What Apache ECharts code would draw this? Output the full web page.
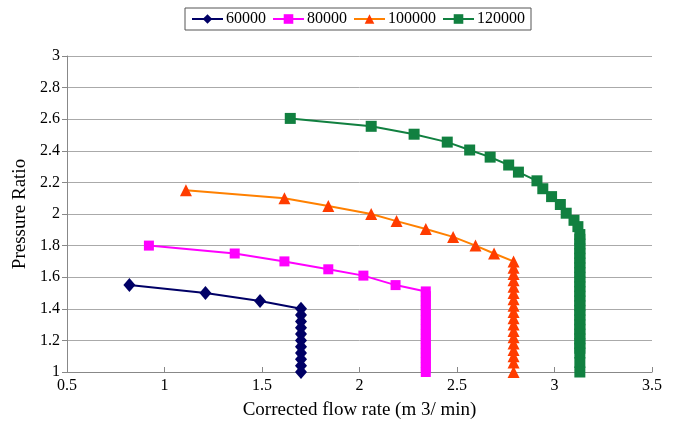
<!DOCTYPE html>
<html>
<head>
<meta charset="utf-8">
<script src="https://cdn.jsdelivr.net/npm/echarts@6/dist/echarts.min.js"></script>
<style>html,body{margin:0;padding:0;background:#fff;}#c{width:674px;height:425px;}</style>
</head>
<body>
<div id="c"></div>
<script>
const seriesNames = ['60000', '80000', '100000', '120000'];

const flow60000  = [0.82, 1.21, 1.49, 1.70, 1.70, 1.70, 1.70, 1.70, 1.70, 1.70, 1.70, 1.70, 1.70, 1.70];
const ratio60000 = [1.55, 1.50, 1.45, 1.40, 1.36, 1.32, 1.28, 1.24, 1.20, 1.16, 1.12, 1.08, 1.04, 1.00];

const flow80000  = [0.92, 1.36, 1.615, 1.84, 2.02, 2.185, 2.34, 2.34, 2.34, 2.34, 2.34, 2.34, 2.34, 2.34, 2.34, 2.34, 2.34, 2.34, 2.34, 2.34, 2.34, 2.34, 2.34, 2.34];
const ratio80000 = [1.80, 1.75, 1.70, 1.65, 1.61, 1.55, 1.51, 1.48, 1.45, 1.42, 1.39, 1.36, 1.33, 1.30, 1.27, 1.24, 1.21, 1.18, 1.15, 1.12, 1.09, 1.06, 1.03, 1.00];

const flow100000  = [1.11, 1.615, 1.84, 2.06, 2.19, 2.34, 2.48, 2.595, 2.69, 2.79, 2.79, 2.79, 2.79, 2.79, 2.79, 2.79, 2.79, 2.79, 2.79, 2.79, 2.79, 2.79, 2.79, 2.79, 2.79, 2.79, 2.79];
const ratio100000 = [2.15, 2.10, 2.05, 2.00, 1.955, 1.905, 1.855, 1.80, 1.75, 1.70, 1.66, 1.62, 1.58, 1.54, 1.50, 1.46, 1.42, 1.38, 1.34, 1.30, 1.26, 1.22, 1.18, 1.14, 1.10, 1.06, 1.00];

const flow120000  = [1.645, 2.06, 2.28, 2.45, 2.565, 2.67, 2.765, 2.815, 2.91, 2.94, 2.985, 3.03, 3.06, 3.10, 3.12, 3.13, 3.13, 3.13, 3.13, 3.13, 3.13, 3.13, 3.13, 3.13, 3.13, 3.13, 3.13, 3.13, 3.13, 3.13, 3.13, 3.13, 3.13, 3.13, 3.13, 3.13, 3.13, 3.13, 3.13, 3.13, 3.13, 3.13, 3.13];
const ratio120000 = [2.605, 2.555, 2.505, 2.455, 2.405, 2.36, 2.31, 2.265, 2.21, 2.16, 2.11, 2.06, 2.005, 1.96, 1.92, 1.87, 1.84, 1.81, 1.78, 1.75, 1.72, 1.69, 1.66, 1.63, 1.60, 1.57, 1.54, 1.51, 1.48, 1.45, 1.42, 1.39, 1.36, 1.33, 1.30, 1.27, 1.24, 1.21, 1.18, 1.15, 1.12, 1.06, 1.00];

const xTicks = { min: 0.5, max: 3.5, interval: 0.5 };
const yTicks = { min: 1, max: 3, interval: 0.2 };

function zip(xs, ys) { return xs.map((x, i) => [x, ys[i]]); }

const font = "'Liberation Serif', serif";

const chart = echarts.init(document.getElementById('c'), null, { renderer: 'canvas' });
chart.setOption({
  animation: false,
  backgroundColor: '#fff',
  textStyle: { fontFamily: font },
  grid: { left: 67, right: 22, top: 56, bottom: 53, containLabel: false },
  legend: {
    top: 8,
    left: 185,
    data: seriesNames,
    itemWidth: 31,
    itemHeight: 12,
    itemGap: 6,
    padding: [3, 6, 3, 6],
    borderColor: '#555',
    borderWidth: 1,
    textStyle: { fontFamily: font, fontSize: 16, color: '#000', padding: [0, 0, 0, -2] }
  },
  xAxis: {
    type: 'value',
    min: xTicks.min, max: xTicks.max, interval: xTicks.interval,
    name: 'Corrected flow rate (m 3/ min)',
    nameLocation: 'middle',
    nameGap: 29,
    nameTextStyle: { fontFamily: font, fontSize: 19, color: '#000' },
    axisLine: { lineStyle: { color: '#888' } },
    axisTick: { inside: true, length: 5, lineStyle: { color: '#888' } },
    axisLabel: { fontFamily: font, fontSize: 16, color: '#000', margin: 6 },
    splitLine: { show: false }
  },
  yAxis: {
    type: 'value',
    min: yTicks.min, max: yTicks.max, interval: yTicks.interval,
    name: 'Pressure Ratio',
    nameLocation: 'middle',
    nameGap: 36,
    nameTextStyle: { fontFamily: font, fontSize: 19, color: '#000' },
    axisLine: { show: true, lineStyle: { color: '#888' } },
    axisTick: { show: true, length: 5, lineStyle: { color: '#888' } },
    axisLabel: { fontFamily: font, fontSize: 16, color: '#000', margin: 7 },
    splitLine: { show: true, lineStyle: { color: '#aaa', width: 1 } }
  },
  series: [
    {
      name: seriesNames[0], type: 'line', data: zip(flow60000, ratio60000),
      symbol: 'diamond', symbolSize: [12, 14], showAllSymbol: true,
      lineStyle: { color: '#000066', width: 2 },
      itemStyle: { color: '#000066' }
    },
    {
      name: seriesNames[1], type: 'line', data: zip(flow80000, ratio80000),
      symbol: 'rect', symbolSize: 10, showAllSymbol: true,
      lineStyle: { color: '#ff00ff', width: 2 },
      itemStyle: { color: '#ff00ff' }
    },
    {
      name: seriesNames[2], type: 'line', data: zip(flow100000, ratio100000),
      symbol: 'triangle', symbolSize: 12, showAllSymbol: true,
      lineStyle: { color: '#ff8000', width: 2 },
      itemStyle: { color: '#ff3c00' }
    },
    {
      name: seriesNames[3], type: 'line', data: zip(flow120000, ratio120000),
      symbol: 'rect', symbolSize: 11, showAllSymbol: true,
      lineStyle: { color: '#118040', width: 2 },
      itemStyle: { color: '#118040' }
    }
  ]
});
</script>
</body>
</html>
